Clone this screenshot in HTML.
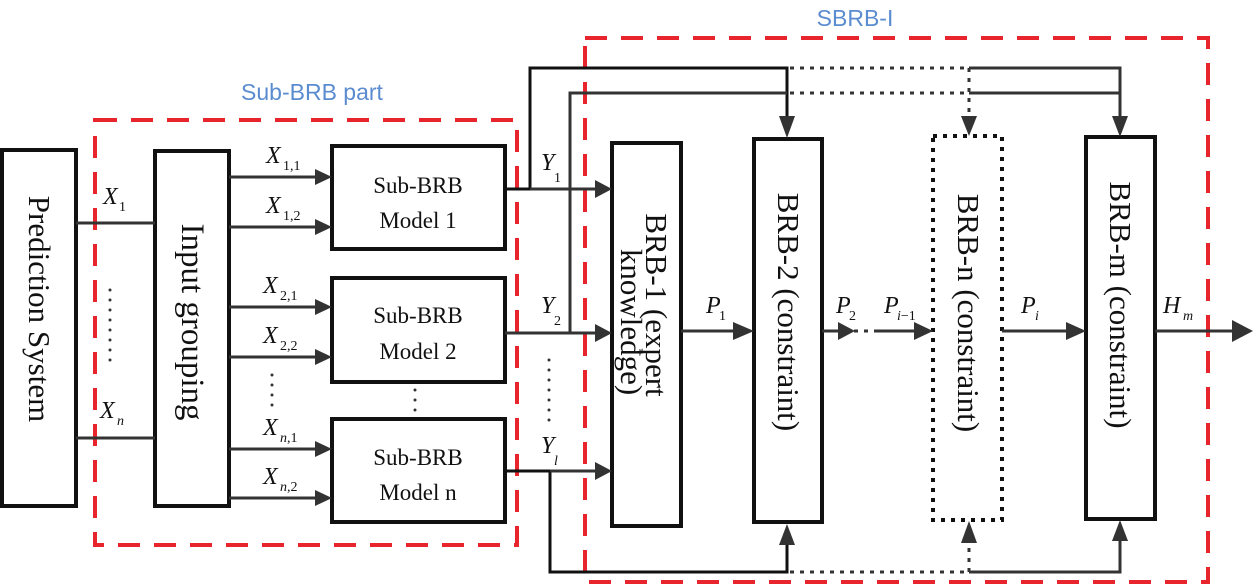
<!DOCTYPE html>
<html><head><meta charset="utf-8"><style>
html,body{margin:0;padding:0;background:#fff;width:1253px;height:586px;overflow:hidden}
svg{display:block}
text{font-family:"Liberation Serif",serif;fill:#111}
.i{font-style:italic;font-size:24px}
.s{font-size:14px}
.si{font-size:14px;font-style:italic}
</style></head><body>
<svg width="1253" height="586" viewBox="0 0 1253 586" xmlns="http://www.w3.org/2000/svg">
<g fill="none" stroke="#e8242c" stroke-width="4" stroke-dasharray="22,14">
<rect x="95" y="120" width="422" height="425"/>
<rect x="585" y="38" width="623" height="544"/>
</g>
<text x="312" y="100" style="font-family:'Liberation Sans',sans-serif;font-size:23px;fill:#5b8ccf" text-anchor="middle">Sub-BRB part</text>
<text x="855" y="26" style="font-family:'Liberation Sans',sans-serif;font-size:23px;fill:#5b8ccf" text-anchor="middle">SBRB-I</text>

<g fill="none" stroke="#111" stroke-width="4">
<rect x="2" y="150" width="74" height="356"/>
<rect x="155" y="151" width="74" height="355"/>
<rect x="332" y="146" width="173" height="103"/>
<rect x="332" y="278" width="173" height="104"/>
<rect x="332" y="419" width="173" height="103"/>
<rect x="612" y="143" width="69" height="383"/>
<rect x="754" y="139" width="68" height="383"/>
<rect x="1086" y="137" width="69" height="382"/>
</g>
<rect x="933" y="136" width="69" height="384" fill="none" stroke="#111" stroke-width="4" stroke-dasharray="4,6"/>

<g stroke="#333" stroke-width="3" fill="none">
<line x1="76" y1="223" x2="155" y2="223"/>
<line x1="76" y1="438" x2="155" y2="438"/>
<line x1="229" y1="177" x2="315" y2="177"/>
<line x1="229" y1="227" x2="315" y2="227"/>
<line x1="229" y1="307" x2="315" y2="307"/>
<line x1="229" y1="357" x2="315" y2="357"/>
<line x1="229" y1="449" x2="315" y2="449"/>
<line x1="229" y1="498" x2="315" y2="498"/>
<polyline points="505,189 530,189 530,68 787,68 787,120" stroke="#111"/>
<line x1="530" y1="189" x2="595" y2="189"/>
<polyline points="505,333 570,333 570,93 787,93"/>
<line x1="570" y1="333" x2="595" y2="333"/>
<polyline points="505,471 550,471 550,572 787,572 787,540" stroke="#111"/>
<line x1="550" y1="471" x2="595" y2="471"/>
<polyline points="969,68 1120,68 1120,120"/>
<line x1="969" y1="93" x2="1120" y2="93"/>
<polyline points="969,572 1120,572 1120,537"/>
<line x1="681" y1="331" x2="738" y2="331"/>
<line x1="822" y1="331" x2="838" y2="331"/>
<line x1="875" y1="331" x2="917" y2="331"/>
<line x1="1002" y1="331" x2="1070" y2="331"/>
<line x1="1155" y1="331" x2="1235" y2="331"/>
</g>
<g stroke="#333" stroke-width="3" fill="none" stroke-dasharray="4,6">
<line x1="790" y1="68" x2="969" y2="68"/>
<line x1="790" y1="93" x2="969" y2="93"/>
<line x1="969" y1="68" x2="969" y2="118"/>
<line x1="790" y1="572" x2="969" y2="572"/>
<line x1="969" y1="572" x2="969" y2="540"/>
<line x1="854" y1="331" x2="875" y2="331"/>
</g>
<g fill="#333">
<polygon points="315,169 332,177 315,185"/>
<polygon points="315,219 332,227 315,235"/>
<polygon points="315,299 332,307 315,315"/>
<polygon points="315,349 332,357 315,365"/>
<polygon points="315,441 332,449 315,457"/>
<polygon points="315,490 332,498 315,506"/>
<polygon points="595,180 612,189 595,198"/>
<polygon points="595,324 612,333 595,342"/>
<polygon points="595,462 612,471 595,480"/>
<polygon points="779,116 795,116 787,138"/>
<polygon points="961,116 977,116 969,136"/>
<polygon points="1112,116 1128,116 1120,137"/>
<polygon points="779,545 795,545 787,524"/>
<polygon points="961,543 977,543 969,521"/>
<polygon points="1112,541 1128,541 1120,520"/>
<polygon points="733,322 754,331 733,340"/>
<polygon points="838,322 855,331 838,340"/>
<polygon points="914,322 933,331 914,340"/>
<polygon points="1066,322 1086,331 1066,340"/>
<polygon points="1232,320 1253,331 1232,342"/>
</g>
<g fill="#333">
<circle cx="110" cy="290" r="1.5"/><circle cx="110" cy="300" r="1.5"/><circle cx="110" cy="310" r="1.5"/><circle cx="110" cy="320" r="1.5"/><circle cx="110" cy="330" r="1.5"/><circle cx="110" cy="340" r="1.5"/><circle cx="110" cy="350" r="1.5"/><circle cx="110" cy="360" r="1.5"/>
<circle cx="272" cy="375" r="1.5"/><circle cx="272" cy="385" r="1.5"/><circle cx="272" cy="395" r="1.5"/><circle cx="272" cy="405" r="1.5"/>
<circle cx="415" cy="390" r="1.5"/><circle cx="415" cy="400" r="1.5"/><circle cx="415" cy="410" r="1.5"/>
<circle cx="549" cy="360" r="1.5"/><circle cx="549" cy="370" r="1.5"/><circle cx="549" cy="380" r="1.5"/><circle cx="549" cy="390" r="1.5"/><circle cx="549" cy="400" r="1.5"/><circle cx="549" cy="410" r="1.5"/><circle cx="549" cy="420" r="1.5"/>
</g>
<text x="103" y="204" class="i">X</text><text x="119" y="211" class="s">1</text>
<text x="100" y="418" class="i">X</text><text x="117" y="425" class="si">n</text>
<text x="266" y="163" class="i">X</text><text x="283" y="170" class="s">1,1</text>
<text x="266" y="213" class="i">X</text><text x="283" y="220" class="s">1,2</text>
<text x="263" y="293" class="i">X</text><text x="280" y="300" class="s">2,1</text>
<text x="263" y="343" class="i">X</text><text x="280" y="350" class="s">2,2</text>
<text x="263" y="435" class="i">X</text><text x="280" y="442" class="si">n<tspan font-style="normal">,1</tspan></text>
<text x="263" y="484" class="i">X</text><text x="280" y="491" class="si">n<tspan font-style="normal">,2</tspan></text>
<text x="541" y="170" class="i">Y</text><text x="554" y="182" class="s">1</text>
<text x="541" y="313" class="i">Y</text><text x="554" y="325" class="s">2</text>
<text x="541" y="453" class="i">Y</text><text x="554" y="465" class="si">l</text>
<text x="706" y="313" class="i">P</text><text x="719" y="320" class="s">1</text>
<text x="836" y="313" class="i">P</text><text x="849" y="320" class="s">2</text>
<text x="884" y="313" class="i">P</text><text x="897" y="320" class="si">i<tspan font-style="normal">−1</tspan></text>
<text x="1021" y="313" class="i">P</text><text x="1035" y="320" class="si">i</text>
<text x="1163" y="313" class="i">H</text><text x="1183" y="320" class="si">m</text>
<g style="font-size:23px">
<text x="418" y="193" text-anchor="middle">Sub-BRB</text><text x="418" y="228" text-anchor="middle">Model 1</text>
<text x="418" y="323" text-anchor="middle">Sub-BRB</text><text x="418" y="359" text-anchor="middle">Model 2</text>
<text x="418" y="465" text-anchor="middle">Sub-BRB</text><text x="418" y="500" text-anchor="middle">Model n</text>
</g>
<g style="font-size:31px">
<text transform="translate(29,309) rotate(90)" text-anchor="middle">Prediction System</text>
<text transform="translate(182,322) rotate(90)" text-anchor="middle" style="font-size:33px">Input grouping</text>
<text transform="translate(646,305) rotate(90)" text-anchor="middle">BRB-1 (expert</text>
<text transform="translate(621,322) rotate(90)" text-anchor="middle">knowledge)</text>
<text transform="translate(778,312) rotate(90)" text-anchor="middle">BRB-2 (constraint)</text>
<text transform="translate(958,313) rotate(90)" text-anchor="middle">BRB-n (constraint)</text>
<text transform="translate(1110,305) rotate(90)" text-anchor="middle">BRB-m (constraint)</text>
</g>
</svg>
</body></html>
